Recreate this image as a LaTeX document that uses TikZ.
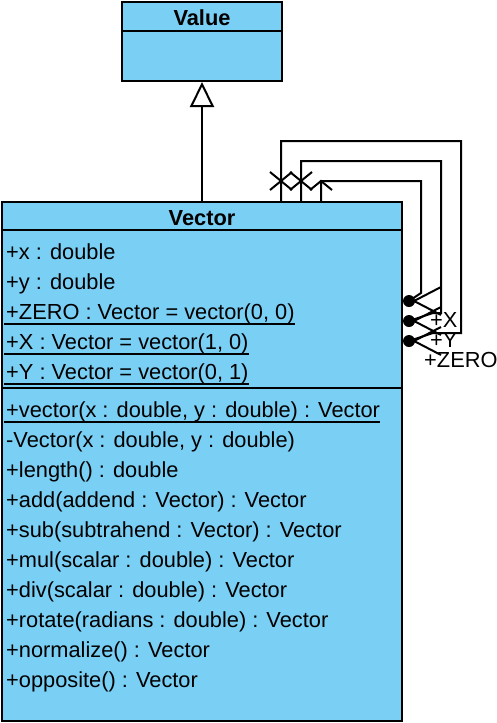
\documentclass[tikz,border=0pt]{standalone}
\usepackage{fontspec}
\setmainfont{Liberation Sans}
\usetikzlibrary{arrows.meta}

\definecolor{classblue}{RGB}{122,207,245}

\tikzset{
  classbox/.style={draw=black,fill=classblue,line width=2pt,inner sep=0pt},
  member/.style={anchor=base west,inner sep=0pt,font=\fontsize{21.8}{26}\selectfont},
  classname/.style={anchor=base,inner sep=0pt,font=\fontsize{21.8}{26}\selectfont\bfseries},
  endlabel/.style={anchor=base west,inner sep=0pt,font=\fontsize{21.8}{26}\selectfont},
  divider/.style={line width=2pt},
  uline/.style={line width=2pt},
  assoc/.style={line width=2pt},
  generalize/.style={line width=2pt,-{Triangle[open,length=25pt,width=24pt,line width=2pt]}}
}

\begin{document}
\begin{tikzpicture}[x=1pt,y=-1pt]
\useasboundingbox (0,0) rectangle (496,723);

% class boxes
\node[classbox,minimum width=160pt,minimum height=79pt] (value) at (202,41.5) {};
\draw[divider] ([yshift=-30pt]value.north west) -- ([yshift=-30pt]value.north east);
\node[classname] (valuename) at (202,25) {Value};

\node[classbox,minimum width=400pt,minimum height=519pt] (vector) at (202,461.5) {};
\draw[divider] ([yshift=-29pt]vector.north west) -- ([yshift=-29pt]vector.north east);
\draw[divider] ([yshift=-187pt]vector.north west) -- ([yshift=-187pt]vector.north east);
\node[classname] (vectorname) at (202,225) {Vector};

% attributes
\node[member] (attrx) at (6,259) {+x : double};
\node[member] (attry) at (6,289) {+y : double};
\node[member] (attrzero) at (6,319) {+ZERO : Vector = vector(0, 0)};
\node[member] (attrX) at (6,349) {+X : Vector = vector(1, 0)};
\node[member] (attrY) at (6,379) {+Y : Vector = vector(0, 1)};
\foreach \n in {attrzero,attrX,attrY}
  \draw[uline] ([xshift=-2pt,yshift=-4.5pt]\n.base west) -- ([yshift=-4.5pt]\n.base east);

% operations
\node[member] (opvector) at (6,417) {+vector(x : double, y : double) : Vector};
\draw[uline] ([xshift=-2pt,yshift=-4.5pt]opvector.base west) -- ([yshift=-4.5pt]opvector.base east);
\foreach \txt [count=\i] in {{-Vector(x : double, y : double)},{+length() : double},
    {+add(addend : Vector) : Vector},{+sub(subtrahend : Vector) : Vector},
    {+mul(scalar : double) : Vector},{+div(scalar : double) : Vector},
    {+rotate(radians : double) : Vector},{+normalize() : Vector},{+opposite() : Vector}}
  \node[member] (op\i) at (6,417+30*\i) {\txt};

% generalization
\draw[generalize] (vector.north) -- (value.south);

% self associations
\coordinate (zerostart) at (281,202);
\coordinate (xstart) at (301,202);
\coordinate (ystart) at (321,202);
\coordinate (yend) at (409,301);
\coordinate (xend) at (409,321);
\coordinate (zeroend) at (409,341);

\draw[assoc] (zerostart) |- (461,141) -- (461,333) -- (433,333) -- (zeroend);
\draw[assoc] (xstart) |- (441,161) -- (441,313) -- (433,313) -- (xend);
\draw[assoc] (ystart) |- (421,181) -- (421,293) -- (yend);

% ends at the top
\draw[assoc] (270,172) -- (292,190) (270,190) -- (292,172);
\draw[assoc] (290,172) -- (312,190) (290,190) -- (312,172);
\draw[assoc] (310,190) -- (321,181) -- (332,190);

% ends at the right
\foreach \e in {yend,xend,zeroend} {
  \fill (\e) circle (6pt);
  \draw[assoc] ([xshift=32pt,yshift=14pt]\e) -- ([xshift=5pt]\e) -- ([xshift=32pt,yshift=-14pt]\e);
}

\node[endlabel] (labelX) at (430,327) {+X};
\node[endlabel] (labelY) at (430,347) {+Y};
\node[endlabel] (labelzero) at (424,367) {+ZERO};
\end{tikzpicture}
\end{document}
